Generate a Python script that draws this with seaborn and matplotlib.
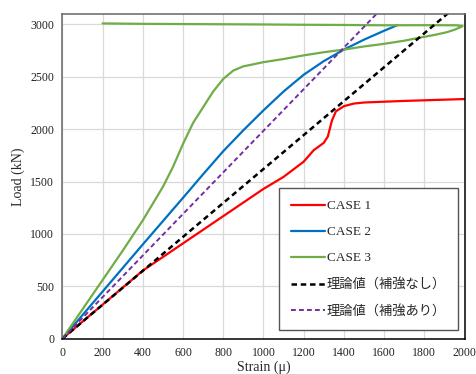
import matplotlib
matplotlib.use("Agg")
import matplotlib.pyplot as plt
import seaborn as sns
import pandas as pd

# ---- data ----
case1_strain = [0, 200, 400, 600, 800, 1000, 1100, 1200, 1250, 1300, 1320, 1340, 1360, 1400, 1450, 1500, 1700, 1900, 2000]
case1_load = [0, 325, 650, 910, 1170, 1430, 1545, 1690, 1800, 1870, 1930, 2080, 2170, 2220, 2245, 2255, 2270, 2282, 2288]

case2_strain = [0, 200, 400, 600, 700, 800, 900, 1000, 1100, 1200, 1300, 1400, 1500, 1600, 1665]
case2_load = [0, 450, 900, 1345, 1570, 1790, 1990, 2180, 2360, 2520, 2650, 2760, 2855, 2940, 2993]

case3_strain = [0, 100, 200, 300, 400, 500, 550, 600, 650, 700, 750, 800, 850, 900, 1000, 1100, 1200,
                1300, 1400, 1500, 1600, 1700, 1780, 1850, 1910, 1950, 1977, 1990,
                1960, 1800, 1600, 1400, 1200, 1000, 800, 600, 400, 200]
case3_load = [0, 280, 560, 840, 1130, 1450, 1640, 1860, 2060, 2210, 2360, 2480, 2560, 2600, 2640, 2670, 2705,
              2735, 2760, 2790, 2815, 2845, 2875, 2900, 2925, 2950, 2972, 2985,
              2992, 2993, 2992, 2995, 2997, 3000, 3002, 3004, 3006, 3010]

theory_plain_strain = [0, 2000]
theory_plain_load = [0, 3240]
theory_reinf_strain = [0, 2000]
theory_reinf_load = [0, 3970]

labels = ["CASE 1", "CASE 2", "CASE 3", "理論値（補強なし）", "理論値（補強あり）"]
x_ticks = [0, 200, 400, 600, 800, 1000, 1200, 1400, 1600, 1800, 2000]
y_ticks = [0, 500, 1000, 1500, 2000, 2500, 3000]

# ---- style ----
sns.set_theme(style="whitegrid")
plt.rcParams["font.family"] = ["Liberation Serif", "Noto Sans CJK JP", "DejaVu Sans"]

fig = plt.figure(figsize=(4.76, 3.74), dpi=100)
ax = fig.add_axes([0.131, 0.0944, 0.845, 0.8682])

series = [
    (case1_strain, case1_load, labels[0], "#FF0000", "-", 1.6),
    (case2_strain, case2_load, labels[1], "#0070C0", "-", 1.6),
    (case3_strain, case3_load, labels[2], "#70AD47", "-", 1.6),
    (theory_plain_strain, theory_plain_load, labels[3], "#000000", (0, (2.2, 1.5)), 1.8),
    (theory_reinf_strain, theory_reinf_load, labels[4], "#7030A0", (0, (2.5, 1.6)), 1.4),
]
for xs, ys, lab, col, ls, lw in series:
    df = pd.DataFrame({"strain": xs, "load": ys})
    sns.lineplot(data=df, x="strain", y="load", ax=ax, sort=False, estimator=None,
                 color=col, linestyle=ls, linewidth=lw, label=lab)

ax.set_xlim(0, 2000)
ax.set_ylim(0, 3100)
ax.set_xticks(x_ticks)
ax.set_yticks(y_ticks)
ax.tick_params(axis="both", labelsize=8.5, length=0, colors="#222222")
ax.tick_params(axis="y", pad=6)
ax.tick_params(axis="x", pad=6)
ax.grid(True, color="#d9d9d9", linewidth=0.9)
ax.set_facecolor("white")

for side in ["top", "left"]:
    ax.spines[side].set_color("#666666")
    ax.spines[side].set_linewidth(1.1)
for side in ["bottom", "right"]:
    ax.spines[side].set_color("#000000")
    ax.spines[side].set_linewidth(1.1)

ax.set_xlabel("Strain (μ)", fontsize=10, labelpad=1)
ax.set_ylabel("Load (kN)", fontsize=10, labelpad=4)

leg = ax.legend(loc="lower right", bbox_to_anchor=(0.983, 0.027), borderaxespad=0,
                fontsize=9.5, labelspacing=1.05, handlelength=2.6, handletextpad=0.1,
                frameon=True, fancybox=False, borderpad=0.9)
leg.get_frame().set_edgecolor("#555555")
leg.get_frame().set_linewidth(1.0)
leg.get_frame().set_facecolor("white")
leg.get_frame().set_alpha(1)

fig.savefig("out.png", dpi=100)
